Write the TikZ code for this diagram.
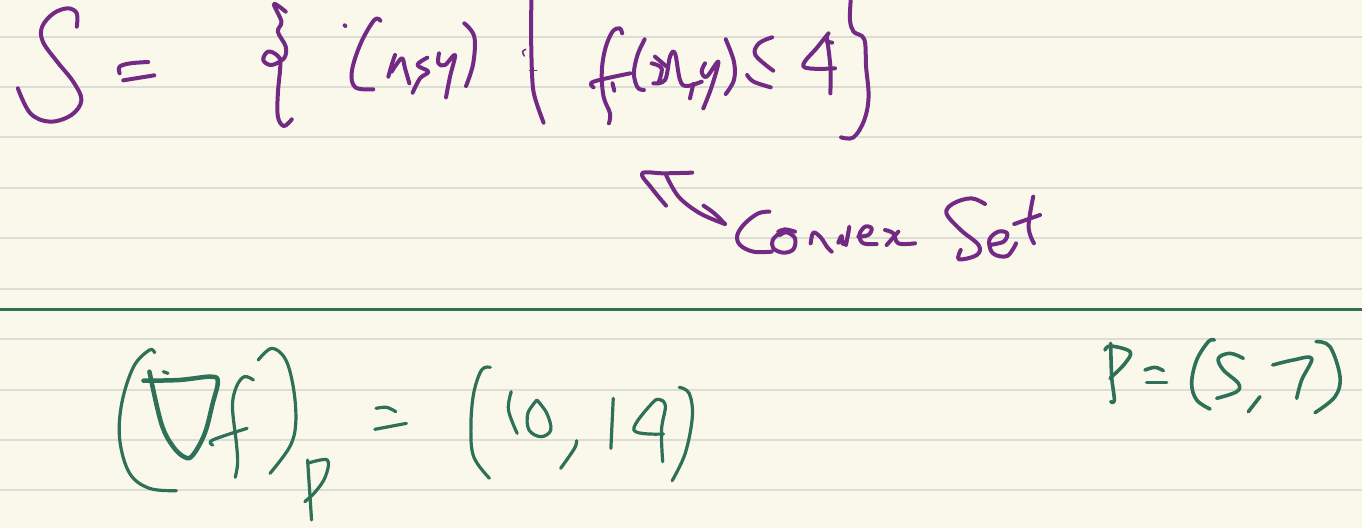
\documentclass[tikz,border=0pt]{standalone}
\definecolor{paper}{HTML}{F9F8EB}
\definecolor{rule}{HTML}{DCDDD7}
\definecolor{inkp}{HTML}{732A85}
\definecolor{inkg}{HTML}{2F7059}
\newcommand\ink[1]{\draw plot[smooth,tension=0.6] coordinates {#1};}
\tikzset{
  ruled/.style={rule,line width=1.6pt},
  purpleink/.style={inkp,line width=4pt,line cap=round,line join=round},
  greenink/.style={inkg,line width=3.2pt,line cap=round,line join=round},
  zoomA/.style={x=0.35714pt,y=-0.33333pt},
  zoomB/.style={xshift=500pt,x=0.35714pt,y=-0.33333pt},
  zoomC/.style={xshift=100pt,yshift=-330pt,x=0.39541pt,y=-0.33333pt},
  zoomD/.style={xshift=1080pt,yshift=-320pt,x=0.33333pt,y=-0.33333pt},
  zoomE/.style={xshift=730pt,yshift=-200pt,x=0.33333pt,y=-0.33333pt},
  zoomF/.style={xshift=590pt,yshift=-30pt,x=0.33333pt,y=-0.33333pt},
  zoomG/.style={xshift=340pt,yshift=-10pt,x=0.33333pt,y=-0.33333pt}
}
\begin{document}
\begin{tikzpicture}[x=1pt,y=-1pt]
\useasboundingbox (0,0) rectangle (1362,528);
\fill[paper] (0,0) rectangle (1362,528);
\foreach \yy in {37,87,137,188,238,289,339,390,440,490}
  \draw[ruled] (0,\yy) -- (1362,\yy);
\draw[inkg,line width=3pt] (0,309) -- (1362,309);

\begin{scope}[zoomA,purpleink]
% S
\ink{(215,80)(215,40)(190,25)(150,40)(118,80)(120,125)(160,185)(205,245)(228,300)(200,345)(140,365)(85,340)(50,265)}
% =
\ink{(335,220)(335,200)(365,190)(415,186)}
\ink{(345,241)(432,226)}
% brace
\ink{(800,35)(767,12)(788,65)(778,95)(800,140)(795,175)(760,195)(737,180)(750,155)(775,165)(785,190)(778,280)(778,350)(795,378)(817,358)}
% (  )
\ink{(965,76)(967,78)}
\ink{(1065,62)(1048,60)(1010,130)(985,215)(995,262)(1045,268)}
\ink{(1300,70)(1328,110)(1325,190)(1305,258)}
% bar
\ink{(1488,0)(1487,100)(1490,230)(1497,290)(1522,368)}
\begin{scope}[line width=1.5pt]
\ink{(1468,168)(1463,155)(1472,148)}
\ink{(1483,212)(1503,212)}
\end{scope}
\end{scope}

\begin{scope}[zoomG,purpleink]
% x , y
\ink{(165,135)(155,165)(145,200)}
\ink{(155,185)(185,145)(195,175)(208,220)}
\ink{(262,143)(232,165)(265,185)(240,205)(218,248)}
\ink{(297,130)(295,160)(315,165)(345,135)(330,200)(318,262)}
\end{scope}

\begin{scope}[zoomB,purpleink]
% f
\ink{(342,100)(335,85)(315,95)(295,145)(285,215)(290,290)(308,340)(305,370)}
\ink{(262,262)(262,245)(365,220)}
\ink{(315,250)(320,272)}
% parentheses
\ink{(405,118)(385,165)(375,220)(385,262)(403,270)}
\ink{(632,118)(655,185)(655,240)(632,282)}
% <=
\ink{(762,112)(725,130)(715,165)(765,212)}
\ink{(758,262)(710,245)(692,225)}
% 4
\ink{(920,100)(890,140)(850,200)(938,205)}
\ink{(915,110)(925,200)(925,280)}
\ink{(915,125)(930,128)}
% closing brace
\ink{(982,0)(980,60)(990,95)(1020,118)(1025,200)(1032,290)(1020,360)(990,412)(955,412)}
% arrow
\ink{(538,518)(460,520)(398,520)(425,565)(465,617)}
\ink{(465,525)(500,590)(560,640)(630,672)}
\ink{(570,617)(600,640)(630,672)}
% Set
\ink{(1358,612)(1320,595)(1270,610)(1250,640)(1290,690)(1340,735)(1335,765)(1285,778)(1290,750)}
\ink{(1370,735)(1410,725)(1420,700)(1395,695)(1370,720)(1380,760)(1420,768)(1445,730)}
\ink{(1493,590)(1480,680)(1495,730)}
\ink{(1440,672)(1512,645)}
\end{scope}

\begin{scope}[zoomF,purpleink]
% x , y in f(x,y)
\ink{(185,100)(215,115)(205,160)}
\ink{(195,80)(230,110)}
\ink{(190,160)(225,150)(240,80)(255,70)(270,150)(290,168)(335,155)}
\ink{(310,162)(300,205)}
\ink{(345,100)(335,125)(350,140)(385,95)(365,170)(340,235)}
\end{scope}

\begin{scope}[zoomE,purpleink]
% Convex
\ink{(118,35)(85,40)(45,70)(22,105)(30,135)(70,155)(125,155)}
\ink{(148,100)(128,120)(130,145)(160,158)(190,148)(195,115)(170,97)(150,105)}
\ink{(145,95)(165,88)(195,95)}
\ink{(242,130)(250,98)(272,112)(292,142)(305,155)}
\ink{(325,128)(335,108)(338,132)(350,122)(358,80)(348,135)}
\ink{(385,110)(415,105)(425,85)(405,80)(388,105)(400,130)(440,132)}
\ink{(465,90)(490,100)(505,130)(555,130)}
\ink{(470,135)(505,95)}
\end{scope}

\begin{scope}[zoomC,greenink]
\ink{(138,68)(125,60)(85,110)(55,220)(50,330)(75,430)(125,475)(193,482)}
\begin{scope}[line width=4.5pt]
\ink{(110,152)(200,150)(280,140)(298,155)(285,220)(265,310)(235,375)(215,382)(185,350)(155,280)(125,125)}
\end{scope}
\ink{(160,125)(172,130)}
\ink{(388,150)(365,140)(345,170)(335,230)(345,340)(348,400)(342,442)}
\ink{(285,345)(285,330)(372,295)}
\ink{(400,90)(435,55)(470,90)(490,180)(495,280)(480,350)(430,430)}
\ink{(525,390)(530,480)(535,570)}
\ink{(525,400)(575,390)(570,440)(545,485)(518,515)}
\ink{(698,235)(725,232)(748,245)}
\ink{(695,298)(775,280)}
\ink{(987,112)(965,120)(945,190)(938,290)(945,380)(985,445)}
\ink{(1040,185)(1033,240)(1055,310)}
\ink{(1105,210)(1082,250)(1085,300)(1115,320)(1140,300)(1130,250)(1105,210)}
\ink{(1205,332)(1200,355)(1165,415)}
\ink{(1298,205)(1295,280)(1292,355)}
\ink{(1420,212)(1400,215)(1350,300)(1425,312)}
\ink{(1420,210)(1430,230)(1420,300)(1423,395)}
\ink{(1465,172)(1490,190)(1498,260)(1480,370)(1447,452)}
\end{scope}

\begin{scope}[zoomD,greenink,line width=3.6pt]
\ink{(92,70)(95,170)(103,240)(92,245)}
\ink{(75,90)(92,78)(150,95)(135,130)(90,175)}
\ink{(195,150)(225,142)(250,152)}
\ink{(200,187)(260,187)}
\ink{(403,60)(385,65)(350,120)(335,190)(350,240)(390,267)}
\ink{(490,115)(450,100)(415,115)(430,150)(475,190)(470,215)(410,235)}
\ink{(540,230)(505,275)}
\ink{(578,135)(640,120)(695,115)(665,180)(650,235)}
\ink{(708,65)(750,80)(780,170)(765,230)(705,278)}
\end{scope}
\end{tikzpicture}
\end{document}
